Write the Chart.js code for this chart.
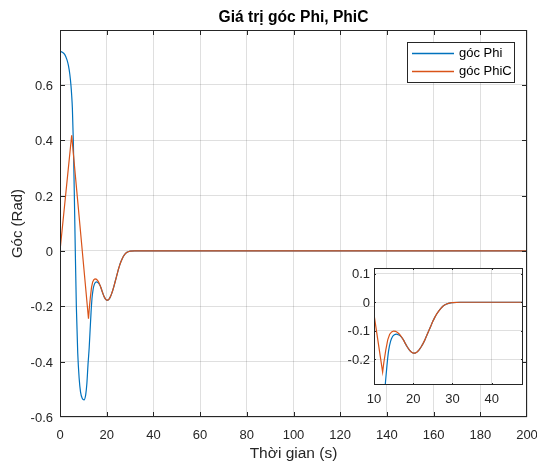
<!DOCTYPE html>
<html><head><meta charset="utf-8">
<script src="https://cdn.jsdelivr.net/npm/chart.js@4.4.0/dist/chart.umd.min.js"></script>
<style>
html,body{margin:0;padding:0;background:#fff;}
#wrap{position:relative;width:537px;height:464px;}
#wrap canvas{position:absolute;left:0;top:0;}
</style></head><body>
<div id="wrap"><canvas id="main" width="537" height="464"></canvas><canvas id="inset" width="537" height="464"></canvas></div>
<script>
const chartTitle = 'Giá trị góc Phi, PhiC';
const xLabel = 'Thời gian (s)';
const yLabel = 'Góc (Rad)';
const seriesNames = ['góc Phi', 'góc PhiC'];
const seriesColors = ['#0072BD', '#D95319'];

// góc Phi (time, value)
const phiT = [0, 1, 2, 3, 3.6, 4.2, 4.7, 5.0, 5.3, 5.7, 6.1, 6.55, 7.0, 7.6, 8.2, 8.8, 9.5, 10.3, 11.0, 11.5, 12.0, 12.5, 12.9, 13.3, 13.7, 14.2, 14.7, 15.2, 15.7, 16.2, 16.7, 17.2,
  17.5, 18.0, 18.5, 19.0, 19.5, 20.0, 20.5, 21.0, 21.5, 22.0, 22.5, 23.0, 23.5, 24.0, 24.5, 25.0, 25.5, 26.0, 26.5, 27.0, 27.5, 28.0, 28.5, 29.0, 29.5, 30.0, 32, 40, 200];
const phiV = [0.72, 0.718, 0.71, 0.69, 0.67, 0.638, 0.597, 0.562, 0.515, 0.40, 0.22, 0.0, -0.2, -0.37, -0.46, -0.51, -0.532, -0.538, -0.52, -0.48, -0.41, -0.35, -0.285, -0.222, -0.172, -0.138, -0.121, -0.114, -0.112, -0.114, -0.118, -0.126,
  -0.132, -0.145, -0.157, -0.167, -0.174, -0.178, -0.178, -0.174, -0.167, -0.157, -0.145, -0.131, -0.115, -0.099, -0.083, -0.067, -0.053, -0.041, -0.031, -0.022, -0.015, -0.010, -0.006, -0.004, -0.002, -0.001, 0, 0, 0];

// góc PhiC (time, value)
const phiCT = [0, 5.0, 12.2, 12.5, 13.0, 13.5, 14.0, 14.5, 15.0, 15.5, 16.0, 16.5, 17.0, 17.5, 18.0, 18.5, 19.0, 19.5, 20.0, 20.5, 21.0, 21.5, 22.0, 22.5, 23.0, 23.5, 24.0, 24.5, 25.0, 25.5, 26.0, 26.5, 27.0, 27.5, 28.0, 28.5, 29.0, 29.5, 30.0, 32, 40, 200];
const phiCV = [0, 0.418, -0.245, -0.212, -0.168, -0.132, -0.112, -0.104, -0.101, -0.102, -0.106, -0.112, -0.121, -0.132, -0.145, -0.157, -0.167, -0.174, -0.178, -0.178, -0.174, -0.167, -0.157, -0.145, -0.131, -0.115, -0.099, -0.083, -0.067, -0.053, -0.041, -0.031, -0.022, -0.015, -0.010, -0.006, -0.004, -0.002, -0.001, 0, 0, 0];

const xTicks = [0, 20, 40, 60, 80, 100, 120, 140, 160, 180, 200];
const yTicks = [-0.6, -0.4, -0.2, 0, 0.2, 0.4, 0.6];
const insetXTicks = [10, 20, 30, 40];
const insetYTicks = [-0.2, -0.1, 0, 0.1];

const FONT = '"Liberation Sans", Arial, Helvetica, sans-serif';
Chart.defaults.font.family = FONT;
Chart.defaults.color = '#262626';

const fmt = v => String(Math.round(v * 100) / 100);
const pts = (ts, vs) => ts.map((t, i) => ({x: t, y: vs[i]}));
const setTicks = arr => scale => { scale.ticks = arr.map(v => ({value: v})); };
const fixH = h => s => { s.height = h; s.paddingLeft = 0; s.paddingRight = 0; };
const fixW = w => s => { s.width = w; s.paddingTop = 0; s.paddingBottom = 0; };

function makeDatasets() {
  return [
    {label: seriesNames[0], data: pts(phiT, phiV), borderColor: seriesColors[0], borderWidth: 1.2,
     pointRadius: 0, cubicInterpolationMode: 'monotone', order: 2, xAxisID: 'x', yAxisID: 'y'},
    {label: seriesNames[1], data: pts(phiCT, phiCV), borderColor: seriesColors[1], borderWidth: 1.2,
     pointRadius: 0, tension: 0, order: 1, xAxisID: 'x', yAxisID: 'y'}
  ];
}

function boxPlugin(tickLen) {
  return {
    id: 'boxTicks',
    afterDraw(chart) {
      const {ctx, chartArea: a} = chart;
      const xs = chart.scales.x, ys = chart.scales.y;
      ctx.save();
      ctx.strokeStyle = '#262626';
      ctx.lineWidth = 1;
      ctx.beginPath();
      xs.ticks.forEach(t => {
        const p = Math.min(Math.round(xs.getPixelForValue(t.value)), a.right - 1) + 0.5;
        ctx.moveTo(p, a.bottom); ctx.lineTo(p, a.bottom - tickLen);
        ctx.moveTo(p, a.top); ctx.lineTo(p, a.top + tickLen);
      });
      ys.ticks.forEach(t => {
        const p = Math.min(Math.round(ys.getPixelForValue(t.value)), a.bottom - 1) + 0.5;
        ctx.moveTo(a.left, p); ctx.lineTo(a.left + tickLen, p);
        ctx.moveTo(a.right, p); ctx.lineTo(a.right - tickLen, p);
      });
      ctx.stroke();
      ctx.strokeRect(a.left + 0.5, a.top + 0.5, a.right - a.left - 1, a.bottom - a.top - 1);
      ctx.restore();
    }
  };
}

const legendPlugin = {
  id: 'matLegend',
  afterDraw(chart) {
    const ctx = chart.ctx;
    const bx = 407.5, by = 42.5, bw = 107, bh = 40;
    ctx.save();
    ctx.fillStyle = '#fff';
    ctx.fillRect(bx, by, bw, bh);
    ctx.strokeStyle = '#262626';
    ctx.lineWidth = 1;
    ctx.strokeRect(bx, by, bw, bh);
    ctx.font = '13px ' + FONT;
    ctx.textBaseline = 'middle';
    ctx.textAlign = 'left';
    chart.data.datasets.forEach((ds, i) => {
      const y = 53.5 + i * 18;
      ctx.strokeStyle = seriesColors[i];
      ctx.lineWidth = 1.3;
      ctx.beginPath(); ctx.moveTo(412, y); ctx.lineTo(454, y); ctx.stroke();
      ctx.fillStyle = '#000';
      ctx.fillText(ds.label, 459, y);
    });
    ctx.restore();
  }
};

const whiteArea = {
  id: 'whiteArea',
  beforeDraw(chart) {
    const {ctx, chartArea: a} = chart;
    ctx.save(); ctx.fillStyle = '#fff';
    ctx.fillRect(a.left, a.top, a.right - a.left, a.bottom - a.top);
    ctx.restore();
  }
};

const gridOpts = {color: 'rgba(38,38,38,0.15)', lineWidth: 1, drawTicks: false};

new Chart(document.getElementById('main'), {
  type: 'line',
  data: {datasets: makeDatasets()},
  options: {
    responsive: false, animation: false, events: [],
    layout: {padding: {left: 0, top: 0, right: 10, bottom: 0}},
    plugins: {legend: {display: false}, title: {display: false}, tooltip: {enabled: false}},
    scales: {
      x: {type: 'linear', position: 'bottom', min: 0, max: 200,
          afterBuildTicks: setTicks(xTicks), afterFit: fixH(47),
          grid: gridOpts, border: {display: false},
          ticks: {font: {size: 13}, color: '#262626', padding: 11, maxRotation: 0, autoSkip: false, callback: fmt},
          title: {display: true, text: xLabel, font: {size: 15.5, lineHeight: 1}, color: '#262626', padding: {top: 0, bottom: 2.5}}},
      xt: {type: 'linear', axis: 'x', position: 'top', min: 0, max: 200,
          afterFit: fixH(30),
          grid: {display: false}, border: {display: false}, ticks: {display: false},
          title: {display: true, text: chartTitle, font: {size: 15.6, weight: 'bold', lineHeight: 1}, color: '#000', padding: {top: 9.5, bottom: 0}}},
      y: {type: 'linear', position: 'left', min: -0.6, max: 0.798,
          afterBuildTicks: setTicks(yTicks), afterFit: fixW(60),
          grid: gridOpts, border: {display: false},
          ticks: {font: {size: 13}, color: '#262626', padding: 7, labelOffset: 1.5, autoSkip: false, callback: fmt},
          title: {display: true, text: yLabel, font: {size: 15, lineHeight: 1}, color: '#262626', padding: {top: 10, bottom: 0}}}
    }
  },
  plugins: [boxPlugin(5), legendPlugin]
});

new Chart(document.getElementById('inset'), {
  type: 'line',
  data: {datasets: makeDatasets()},
  options: {
    responsive: false, animation: false, events: [],
    layout: {padding: {left: 0, top: 268, right: 14, bottom: 0}},
    plugins: {legend: {display: false}, title: {display: false}, tooltip: {enabled: false}},
    scales: {
      x: {type: 'linear', position: 'bottom', min: 10, max: 48,
          afterBuildTicks: setTicks(insetXTicks), afterFit: fixH(79),
          grid: gridOpts, border: {display: false},
          ticks: {font: {size: 13}, color: '#262626', padding: 7, maxRotation: 0, autoSkip: false, callback: fmt}},
      y: {type: 'linear', position: 'left', min: -0.29, max: 0.12,
          afterBuildTicks: setTicks(insetYTicks), afterFit: fixW(374),
          grid: gridOpts, border: {display: false},
          ticks: {font: {size: 13}, color: '#262626', padding: 4, labelOffset: 1, autoSkip: false, callback: fmt}}
    }
  },
  plugins: [whiteArea, boxPlugin(2)]
});
</script>
</body></html>
